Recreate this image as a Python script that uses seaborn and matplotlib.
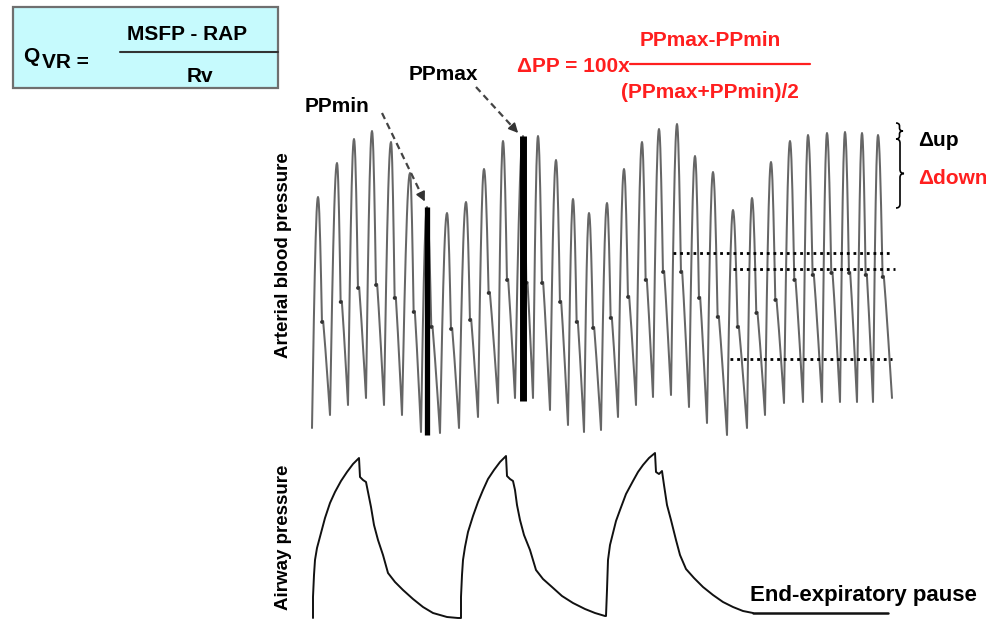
import numpy as np
import matplotlib.pyplot as plt
from matplotlib.path import Path
from matplotlib.patches import PathPatch, Rectangle
import seaborn as sns

# arterial pressure beats (pixel coords, y grows downward)
# trough before each beat (+ the final end point of the trace)
trough_x = [312, 330, 348, 366, 384, 402, 421, 440, 459, 478, 498, 515, 533, 550, 568, 584,
            601, 618, 636, 653, 671, 689, 707, 727, 747, 765, 784, 803, 822, 840, 857, 873, 892]
trough_y = [428, 415, 405, 398, 405, 415, 432, 433, 428, 417, 403, 398, 398, 410, 425, 432,
            430, 417, 405, 397, 395, 407, 423, 435, 428, 415, 403, 402, 402, 402, 402, 402, 398]
peak_x = [318, 337, 354, 372, 391, 410, 427, 447, 466, 484, 503, 523, 538, 556, 573, 589,
          607, 624, 642, 659, 677, 695, 713, 733, 752, 771, 790, 808, 827, 845, 862, 878]
peak_y = [197, 163, 139, 131, 142, 173, 207, 213, 202, 169, 141, 136, 136, 160, 199, 213,
          203, 169, 142, 129, 124, 156, 172, 210, 198, 162, 141, 135, 133, 132, 133, 135]
notch_y = [322, 302, 288, 285, 298, 312, 327, 329, 320, 293, 280, 283, 283, 302, 322, 328,
           318, 297, 280, 272, 272, 298, 317, 327, 313, 300, 280, 275, 273, 273, 275, 277]

ppmin_beat = 6
ppmax_beat = 11

# dotted reference levels on the right
ref_y = [253, 269, 359]
ref_x0 = [673, 733, 730]
ref_x1 = [893, 895, 892]

# airway pressure trace, three insufflations
airway_x = [313, 313, 314, 315, 317, 321, 325, 330, 335, 341, 347, 353, 359,
            360, 363, 366, 368, 371, 374, 378, 383, 388, 395, 403, 413, 423, 433, 447, 458,
            461, 461, 462, 463, 465, 468, 473, 478, 483, 488, 494, 500, 506,
            507, 510, 513, 515, 517, 520, 524, 530, 536, 543, 552, 562, 573, 585, 595, 605,
            606, 607, 608, 610, 613, 616, 620, 626, 633, 638, 643, 649, 655,
            656, 659, 662, 664, 667, 671, 676, 680, 686, 694, 703, 713, 723, 733, 743, 753]
airway_y = [618, 597, 575, 560, 548, 533, 518, 503, 492, 481, 472, 464, 458,
            477, 480, 482, 492, 507, 525, 540, 555, 573, 582, 590, 599, 607, 613, 617, 618,
            618, 597, 575, 560, 547, 532, 516, 502, 490, 479, 470, 462, 456,
            476, 479, 481, 490, 505, 520, 535, 550, 570, 579, 587, 596, 603, 609, 613, 616,
            616, 590, 560, 545, 533, 521, 510, 494, 481, 472, 465, 458, 453,
            472, 474, 471, 485, 505, 520, 540, 555, 569, 578, 587, 595, 602, 607, 611, 613]
pause_x = [753, 888]
pause_y = [613, 613]

RED = "#ff1f1f"
TRACE = "#666666"


def arterial_trace():
    xs, ys, nxs = [], [], []
    for i in range(len(peak_x)):
        tx0, ty0 = trough_x[i], trough_y[i]
        tx1, ty1 = trough_x[i + 1], trough_y[i + 1]
        px, py, ny = peak_x[i], peak_y[i], notch_y[i]
        # upstroke
        u = np.linspace(0, 1, 14)
        xs += list(tx0 + (px - tx0) * u)
        ys += list(ty0 + (py - ty0) * np.sin(np.pi / 2 * u))
        # fall to dicrotic notch
        nx = px + 0.33 * (tx1 - px)
        s = np.linspace(0, 1, 10)[1:]
        xs += list(px + (nx - px) * s)
        ys += list(py + (ny - py) * (1 - np.cos(np.pi / 2 * s)))
        nxs.append(nx)
        xs += [nx + 0.6, nx + 1.2]
        ys += [ny + 0.5, ny - 1.0]
        # diastolic run-off
        x0 = nx + 1.2
        xs += list(x0 + (tx1 - x0) * s)
        ys += list(ny + (ty1 - ny) * s ** 1.1)
    return xs, ys, nxs


def brace(ax, x0, ya, yb, w, r=4):
    ym = (ya + yb) / 2
    xm = x0 + w / 2
    verts = [(x0, ya), (xm, ya), (xm, ya + r), (xm, ym - r), (xm, ym), (x0 + w, ym),
             (xm, ym), (xm, ym + r), (xm, yb - r), (xm, yb), (x0, yb)]
    codes = [Path.MOVETO, Path.CURVE3, Path.CURVE3, Path.LINETO, Path.CURVE3, Path.CURVE3,
             Path.CURVE3, Path.CURVE3, Path.LINETO, Path.CURVE3, Path.CURVE3]
    ax.add_patch(PathPatch(Path(verts, codes), fc="none", ec="black", lw=1.2))


def dashed_arrow(ax, start, end):
    sx, sy = start
    ex, ey = end
    hx = sx + (ex - sx) * 0.85
    hy = sy + (ey - sy) * 0.85
    ax.plot([sx, hx], [sy, hy], color="#444444", lw=1.6, ls=(0, (3, 2)))
    ax.annotate("", xy=end, xytext=(hx, hy),
                arrowprops=dict(arrowstyle="-|>", color="#333333", lw=1.2, mutation_scale=14))


sns.set_theme(style="white")
plt.rcParams["font.family"] = ["Liberation Sans", "DejaVu Sans"]
plt.rcParams["font.weight"] = "bold"
plt.rcParams["text.color"] = "black"

fig = plt.figure(figsize=(9.87, 6.21), dpi=100)
ax = fig.add_axes([0, 0, 1, 1])
ax.set_xlim(0, 987)
ax.set_ylim(621, 0)
ax.axis("off")

# arterial pressure waveform
art_x, art_y, notch_x = arterial_trace()
sns.lineplot(x=art_x, y=art_y, sort=False, estimator=None, color=TRACE, lw=1.45, ax=ax)
sns.scatterplot(x=notch_x, y=notch_y, s=7, color="#333333", edgecolor="none", ax=ax, zorder=3)

# PPmin / PPmax bars
for b, w in [(ppmin_beat, 3.8), (ppmax_beat, 5.0)]:
    ax.plot([peak_x[b], peak_x[b]], [peak_y[b], trough_y[b] + 3], color="black", lw=w,
            solid_capstyle="butt", zorder=4)

# dotted reference levels
for y, x0, x1 in zip(ref_y, ref_x0, ref_x1):
    ax.plot([x0, x1], [y, y], color="black", lw=2.0, ls=(0, (1, 1.4)), zorder=5)

# airway pressure
sns.lineplot(x=airway_x, y=airway_y, sort=False, estimator=None, color="#111111", lw=1.4, ax=ax)
ax.plot(pause_x, pause_y, color="#111111", lw=1.8)

# axis labels
ax.text(284, 255, "Arterial blood pressure", rotation=90, ha="center", va="center", fontsize=13.5)
ax.text(284, 537, "Airway pressure", rotation=90, ha="center", va="center", fontsize=13.5)
ax.text(750, 595, "End-expiratory pause", ha="left", va="center", fontsize=16)

# PPmin / PPmax labels and arrows
ax.text(305, 106, "PPmin", ha="left", va="center", fontsize=15)
ax.text(409, 75, "PPmax", ha="left", va="center", fontsize=15)
dashed_arrow(ax, (382, 113), (426, 204))
dashed_arrow(ax, (476, 87), (520, 135))

# delta PP formula
ax.text(517, 67, "\u0394PP = 100x", ha="left", va="center", fontsize=15, color=RED)
ax.plot([630, 810], [64, 64], color=RED, lw=1.6)
ax.text(710, 41, "PPmax-PPmin", ha="center", va="center", fontsize=15, color=RED)
ax.text(710, 92, "(PPmax+PPmin)/2", ha="center", va="center", fontsize=15, color=RED)

# delta up / down
brace(ax, 896, 123, 139, 7, r=3)
brace(ax, 896, 139, 208, 8, r=4)
ax.text(918, 141, "\u0394up", ha="left", va="center", fontsize=15, color="black")
ax.text(918, 179, "\u0394down", ha="left", va="center", fontsize=15, color=RED)

# venous return formula box
ax.add_patch(Rectangle((13, 7), 265, 81, fc="#c6fafd", ec="#6f6f6f", lw=1.6, zorder=1))
ax.text(23, 57, "Q", ha="left", va="center", fontsize=15)
ax.text(42, 62, "VR =", ha="left", va="center", fontsize=15)
ax.plot([120, 278], [52, 52], color="#333333", lw=1.5, zorder=2)
ax.text(187, 34, "MSFP - RAP", ha="center", va="center", fontsize=15)
ax.text(200, 77, "Rv", ha="center", va="center", fontsize=15)

fig.savefig("out.png", dpi=100)
